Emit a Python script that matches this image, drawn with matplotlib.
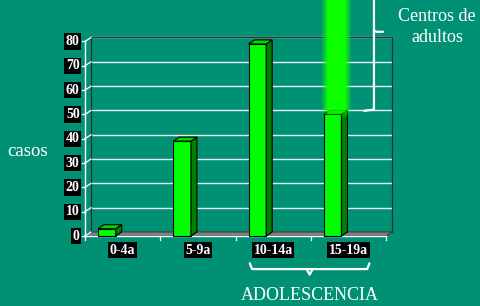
import numpy as np
import matplotlib
matplotlib.use("Agg")
import matplotlib.pyplot as plt
from matplotlib.patches import Rectangle, Polygon

categories = ["0-4a", "5-9a", "10-14a", "15-19a"]
values = [3, 39, 79, 50]
yticks = [0, 10, 20, 30, 40, 50, 60, 70, 80]
ylabel = "casos"
note_right = "Centros de\nadultos"
note_bottom = "ADOLESCENCIA"

BG = "#009174"
SERIF = ["Liberation Serif", "DejaVu Serif"]

fig = plt.figure(figsize=(4.8, 3.06), dpi=100)
fig.patch.set_facecolor(BG)
ax = fig.add_axes([85 / 480, (306 - 236) / 306, 301 / 480, 194.5 / 306])
ax.set_xlim(0, 4)
ax.set_ylim(0, 80)
ax.axis("off")

DX = 6 / 75.25
DY = 4 * 80 / 194.5
N = len(categories)

# floor
ax.add_patch(Polygon([(0, 0), (N, 0), (N + DX, DY), (DX, DY)], closed=True,
                     fc="#808080", ec="#404040", lw=0.8, clip_on=False, zorder=1))
# back wall gridlines and slants
for v in yticks[1:]:
    ax.plot([DX, N + DX], [v + DY, v + DY], color="#e8f4f0", lw=1.0, clip_on=False, zorder=1)
for v in yticks:
    ax.plot([0, DX], [v, v + DY], color="white", lw=0.9, clip_on=False, zorder=2)
    ax.plot([-0.045, 0], [v, v], color="white", lw=0.9, clip_on=False, zorder=2)
# back wall frame
ax.plot([DX, DX, N + DX, N + DX], [DY, 80 + DY, 80 + DY, DY], color="#303030",
        lw=0.9, clip_on=False, zorder=1)
# front axes
ax.plot([0, 0], [0, 80], color="white", lw=1.0, clip_on=False, zorder=2)
ax.plot([0, N], [0, 0], color="white", lw=1.0, clip_on=False, zorder=2)
for i in range(N + 1):
    ax.plot([i, i], [0, -1.6], color="white", lw=0.9, clip_on=False, zorder=2)

# bars
W = 0.235
for i, v in enumerate(values):
    x0 = i + 0.173
    ax.add_patch(Rectangle((x0, 0), W, v, fc="#00ff00", ec="black", lw=0.8,
                           clip_on=False, zorder=3))
    ax.add_patch(Polygon([(x0 + W, 0), (x0 + W + DX, DY), (x0 + W + DX, v + DY), (x0 + W, v)],
                         closed=True, fc="#008000", ec="black", lw=0.8, clip_on=False, zorder=3))
    ax.add_patch(Polygon([(x0, v), (x0 + W, v), (x0 + W + DX, v + DY), (x0 + DX, v + DY)],
                         closed=True, fc="#00d800", ec="black", lw=0.8, clip_on=False, zorder=3))

# glow above the 15-19a bar
gi = 3
gv = values[gi]
gc = gi + 0.173 + (W + DX) / 2
half = 0.2
ny, nx = 200, 60
xs = np.linspace(-half, half, nx)
core = 0.115
ax_prof = np.clip(1 - (np.abs(xs) - core) / (half - core), 0, 1)
ys = np.linspace(0, 1, ny)
ytop = 100
yspan = ytop - (gv - 1.5)
fade = np.clip((ys * yspan) / 3.5, 0, 1)
alpha = fade[:, None] * ax_prof[None, :]
img = np.zeros((ny, nx, 4))
img[..., 1] = 1.0
img[..., 0] = 0.05
img[..., 3] = alpha
ax.imshow(img, extent=[gc - half, gc + half, gv - 1.5, ytop], origin="lower",
          aspect="auto", zorder=4, clip_on=False, interpolation="bilinear")
ax.set_xlim(0, 4)
ax.set_ylim(0, 80)

# category labels
for i, c in enumerate(categories):
    ax.text(i + 0.5, -5.8, c, ha="center", va="center", color="white", fontsize=10,
            fontweight="bold", family=SERIF, clip_on=False, zorder=5,
            bbox=dict(boxstyle="square,pad=0.12", fc="black", ec="none"))
# y tick labels
for v in yticks:
    ax.text(-0.07, v, str(v), ha="right", va="center", color="white", fontsize=10,
            fontweight="bold", family=SERIF, clip_on=False, zorder=5,
            bbox=dict(boxstyle="square,pad=0.12", fc="black", ec="none"))

# braces
bl = dict(color="white", lw=1.6, clip_on=False, zorder=5, solid_capstyle="round",
          solid_joinstyle="round")
bx0, bx1 = 2.19, 3.78
by = -13.6
bm = (bx0 + bx1) / 2
ax.plot([bx0, bx0 + 0.03, bx1 - 0.03, bx1], [by + 2.4, by, by, by + 2.4], **bl)
ax.plot([bm - 0.04, bm, bm + 0.04], [by, by - 2.3, by], **bl)
rx = 3.84
ax.plot([rx, rx, rx - 0.13], [100, gv + 1.5 + 0.5, gv + 1.5], **bl)
ax.plot([rx, rx + 0.03, rx + 0.12], [84.5, 84.0, 84.0], **bl)

# texts
fig.text(28 / 480, 1 - 152 / 306, ylabel, ha="center", va="center", color="white",
         fontsize=13.5, family=SERIF)
fig.text(437 / 480, 1 - 27 / 306, note_right, ha="center", va="center", color="white",
         fontsize=13, family=SERIF, linespacing=1.25)
fig.text(310 / 480, 1 - 296 / 306, note_bottom, ha="center", va="center", color="white",
         fontsize=13, family=SERIF)

fig.savefig("out.png", dpi=100, facecolor=BG)
